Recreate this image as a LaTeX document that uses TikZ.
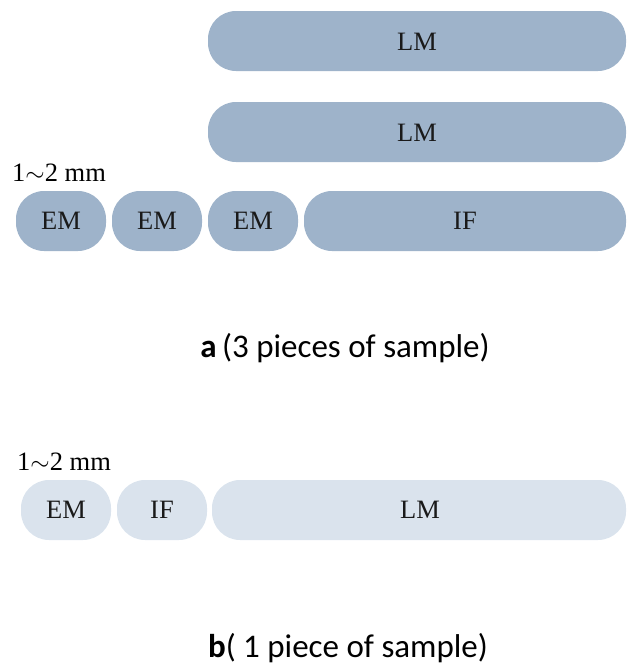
\documentclass[tikz,border=0pt]{standalone}
\usepackage{fontspec}
\setmainfont{Liberation Serif}
\newfontfamily\capfont{Carlito}
\definecolor{piecedark}{HTML}{9EB3CA}
\definecolor{piecelight}{HTML}{DAE3ED}
\definecolor{labelink}{HTML}{1A1A1A}
\begin{document}
\begin{tikzpicture}[x=1pt,y=-1pt,
  piece/.style={rounded corners=28pt, draw=none},
  darkpiece/.style={piece, fill=piecedark},
  lightpiece/.style={piece, fill=piecelight},
  plabel/.style={font=\fontsize{26.5}{30}\selectfont, text=labelink, inner sep=0pt},
  sizelabel/.style={font=\fontsize{26.5}{30}\selectfont, anchor=base west, inner sep=0pt},
  caption/.style={font=\capfont\fontsize{33}{38}\selectfont, anchor=base, inner sep=0pt}]
\useasboundingbox (0,0) rectangle (627,667);
% panel a: three pieces of sample
\path[darkpiece] (208,11) rectangle (626,71);
\node[plabel] (lm1) at (417,42) {LM};
\path[darkpiece] (208,102) rectangle (626,162);
\node[plabel] (lm2) at (417,133) {LM};
\node[sizelabel] (sza) at (12,181) {1$\sim$2 mm};
\path[darkpiece] (16,191) rectangle (106,251);
\node[plabel] (em1) at (61,221) {EM};
\path[darkpiece] (112,191) rectangle (202,251);
\node[plabel] (em2) at (157,221) {EM};
\path[darkpiece] (208,191) rectangle (298,251);
\node[plabel] (em3) at (253,221) {EM};
\path[darkpiece] (304,191) rectangle (626,251);
\node[plabel] (if1) at (465,221) {IF};
\node[caption] (capa) at (345,357) {\textbf{a}\,(3 pieces of sample)};
% panel b: one piece of sample
\node[sizelabel] (szb) at (17,470) {1$\sim$2 mm};
\path[lightpiece] (21,480) rectangle (111,540);
\node[plabel] (em4) at (66,510) {EM};
\path[lightpiece] (117,480) rectangle (207,540);
\node[plabel] (if2) at (162,510) {IF};
\path[lightpiece] (212,480) rectangle (626,540);
\node[plabel] (lm3) at (420,510) {LM};
\node[caption] (capb) at (348,657) {\textbf{b}( 1 piece of sample)};
\end{tikzpicture}
\end{document}
